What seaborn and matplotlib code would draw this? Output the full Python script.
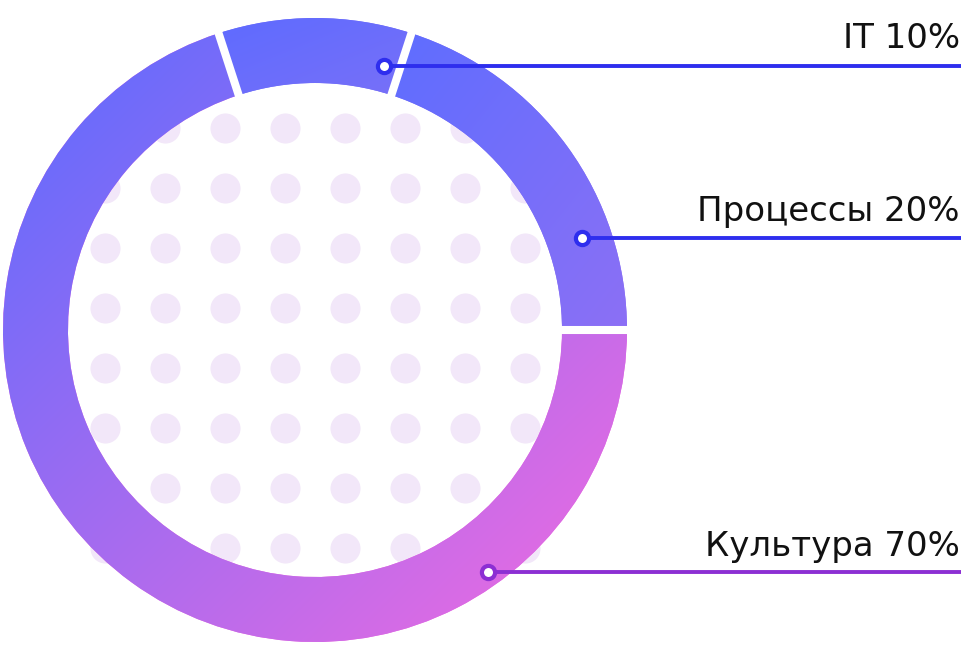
import numpy as np
import matplotlib
matplotlib.use('Agg')
import matplotlib.pyplot as plt
from matplotlib.colors import to_rgb
import seaborn as sns

# ─── data ────────────────────────────────────────────────────────────────
segments    = ['Процессы', 'IT', 'Культура']
shares      = [20, 10, 70]
label_texts = ['Процессы 20%', 'IT 10%', 'Культура 70%']

grad_start  = ['#5E6DFF', '#5E6BFF', '#596CFF']
grad_end    = ['#8C70F5', '#7870F8', '#F26BE0']
line_colors = ['#2E2EEE', '#2E2EEE', '#8C2FD3']

# label anchors on the ring and text baselines (pixels from top-left)
anchor_x = [582, 384, 488]
anchor_y = [238, 66, 572]
text_y   = [221, 48, 556]

# background dot grid (pixels from top-left)
dot_cols = [105, 165, 225, 285, 345, 405, 465, 525]
dot_rows = [128, 188, 248, 308, 368, 428, 488, 548]

# ─── geometry ────────────────────────────────────────────────────────────
W, H = 962, 662
CX, CY = 315, 330
R_OUT, R_IN = 312, 247

sns.set_theme(style='white')
plt.rcParams['font.family'] = ['DejaVu Sans']

fig = plt.figure(figsize=(W / 100, H / 100), dpi=100)
ax = fig.add_axes([0, 0, 1, 1])

# dots
gx, gy = np.meshgrid(dot_cols, dot_rows)
sns.scatterplot(x=gx.ravel(), y=H - gy.ravel(), s=470, color='#F2E7F9',
                linewidth=0, ax=ax, zorder=1, legend=False)

# ring
wedges, _ = ax.pie(shares, colors=grad_end, startangle=0, counterclock=True,
                   radius=R_OUT, center=(CX, H - CY),
                   wedgeprops=dict(width=R_OUT - R_IN, linewidth=0))

n = 300
u = np.linspace(0, 1, n)
uu, vv = np.meshgrid(u, u)
t = ((uu + vv) / 2)[..., None]
for w, c0, c1 in zip(wedges, grad_start, grad_end):
    w.set_zorder(2)
    ext = w.get_path().get_extents()
    img = (1 - t) * np.array(to_rgb(c0)) + t * np.array(to_rgb(c1))
    im = ax.imshow(img, extent=(ext.x0, ext.x1, ext.y0, ext.y1), origin='upper',
                   interpolation='bilinear', zorder=2.5)
    im.set_clip_path(w)

# white gaps between segments
for w in wedges:
    th = np.deg2rad(w.theta1)
    r = np.array([R_IN - 4, R_OUT + 4])
    ax.plot(CX + r * np.cos(th), H - CY + r * np.sin(th), color='white',
            lw=5.8, solid_capstyle='butt', zorder=3)

# labels
for lab, axx, ayy, ty, col in zip(label_texts, anchor_x, anchor_y, text_y, line_colors):
    ax.plot([axx, W], [H - ayy, H - ayy], color=col, lw=2.8, zorder=4)
    ax.plot([axx], [H - ayy], marker='o', markersize=9.5, mew=3,
            mfc='white', mec=col, zorder=5)
    ax.text(960, H - ty, lab, ha='right', va='baseline', fontsize=24.5,
            color='#111111')

ax.set_xlim(0, W)
ax.set_ylim(0, H)
ax.set_aspect('equal')
ax.axis('off')

fig.savefig('out.png', dpi=100, facecolor='white')
